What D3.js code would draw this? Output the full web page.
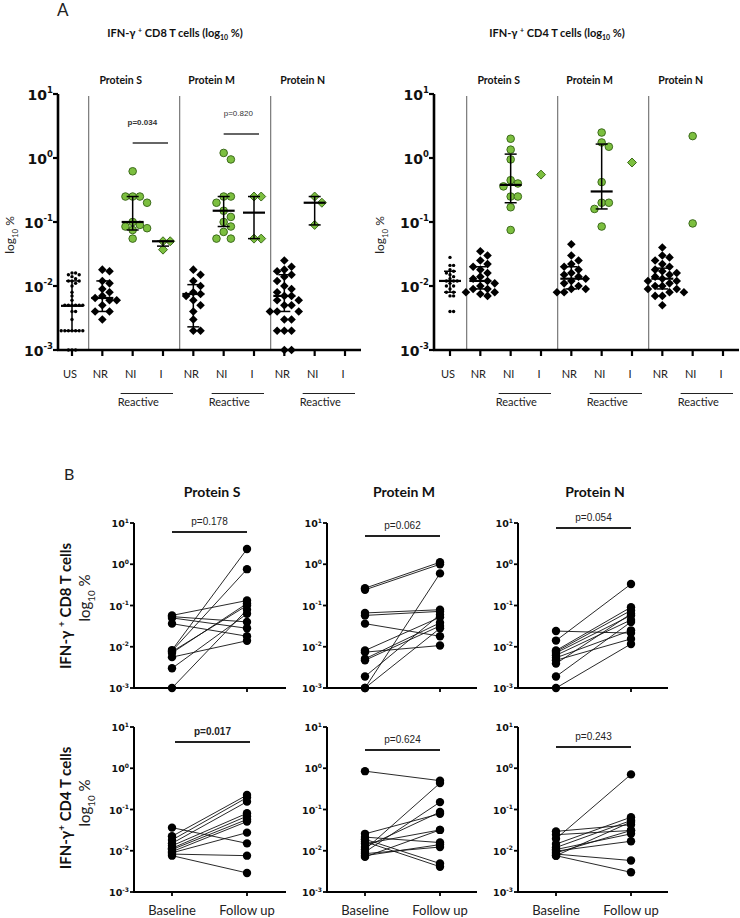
<!DOCTYPE html>
<html><head><meta charset="utf-8">
<script src="https://cdn.jsdelivr.net/npm/d3@7"></script>
<style>body{margin:0;background:#fff}</style>
</head><body><svg id="c" width="740" height="918"></svg>
<script>
// ---------------- DATA ----------------
const categoriesA = ["US","S-NR","S-NI","S-I","M-NR","M-NI","M-I","N-NR","N-NI","N-I"];
const categoryLabelsA = ["US","NR","NI","I","NR","NI","I","NR","NI","I"];
const proteinLabels = ["Protein S","Protein M","Protein N"];
const decadeTicks = [0.001,0.01,0.1,1,10];
const decadeExps = ["-3","-2","-1","0","1"];

// Panel A, CD8
const cd8_US   = [0.016,0.016,0.015,0.015,0.014,0.013,0.012,0.012,0.012,0.011,0.010,0.008,0.007,0.006,0.005,0.005,0.005,0.005,0.005,0.005,0.004,0.004,0.003,0.002,0.002,0.002,0.002,0.002,0.002,0.002,0.001,0.001,0.001];
const cd8_S_NR = [0.018,0.017,0.012,0.011,0.009,0.008,0.007,0.0065,0.006,0.006,0.005,0.004,0.004,0.003];
const cd8_S_NI = [0.62,0.25,0.25,0.25,0.2,0.1,0.09,0.085,0.08,0.075,0.055];
const cd8_S_I  = [0.05,0.05,0.037];
const cd8_M_NR = [0.018,0.015,0.012,0.010,0.008,0.0075,0.007,0.006,0.005,0.004,0.003,0.002,0.002];
const cd8_M_NI = [1.2,0.95,0.25,0.25,0.2,0.15,0.12,0.1,0.085,0.07,0.055,0.055];
const cd8_M_I  = [0.25,0.25,0.055,0.055];
const cd8_N_NR = [0.025,0.02,0.018,0.017,0.015,0.014,0.012,0.01,0.009,0.008,0.007,0.007,0.006,0.006,0.005,0.005,0.004,0.004,0.004,0.003,0.003,0.002,0.002,0.002,0.001,0.001];
const cd8_N_NI = [0.25,0.2,0.09];
const cd8_N_I  = [];
const cd8_markers = ["dot","diamond","circle","gdiamond","diamond","circle","gdiamond","diamond","gdiamond","gdiamond"];
const cd8_median = [0.0049,0.0065,0.10,0.05,0.0075,0.15,0.14,0.007,0.2,null];
const cd8_low    = [0.002,0.004,0.075,0.042,0.0023,0.085,0.055,0.004,0.09,null];
const cd8_high   = [0.012,0.012,0.25,0.05,0.0105,0.25,0.25,0.015,0.25,null];

// Panel A, CD4
const cd4_US   = [0.028,0.021,0.021,0.018,0.017,0.016,0.015,0.014,0.013,0.012,0.012,0.012,0.011,0.01,0.01,0.009,0.008,0.008,0.007,0.007,0.004,0.004];
const cd4_S_NR = [0.035,0.03,0.025,0.022,0.02,0.018,0.016,0.014,0.013,0.012,0.011,0.01,0.009,0.009,0.008,0.008,0.0075,0.007];
const cd4_S_NI = [2.0,1.35,0.95,0.45,0.4,0.36,0.25,0.25,0.17,0.075];
const cd4_S_I  = [0.55];
const cd4_M_NR = [0.045,0.03,0.025,0.022,0.02,0.018,0.016,0.015,0.014,0.013,0.012,0.011,0.01,0.009,0.009,0.008,0.008];
const cd4_M_NI = [2.5,1.75,1.5,0.42,0.2,0.2,0.16,0.085];
const cd4_M_I  = [0.85];
const cd4_N_NR = [0.04,0.03,0.028,0.025,0.022,0.02,0.018,0.017,0.016,0.015,0.014,0.013,0.012,0.012,0.011,0.01,0.01,0.009,0.009,0.008,0.008,0.007,0.007,0.005];
const cd4_N_NI = [2.2,0.095];
const cd4_N_I  = [];
const cd4_markers = ["dot","diamond","circle","gdiamond","diamond","circle","gdiamond","diamond","circle","gdiamond"];
const cd4_median = [0.012,0.012,0.38,null,0.013,0.3,null,0.013,null,null];
const cd4_low    = [0.008,0.009,0.2,null,0.009,0.16,null,0.009,null,null];
const cd4_high   = [0.017,0.02,1.15,null,0.02,1.65,null,0.019,null,null];

// Panel A p-values
const pA_cd8 = [{text:"p=0.034", bold:true, from:"S-NI", to:"S-I"},{text:"p=0.820", bold:false, from:"M-NI", to:"M-I"}];

// Panel B paired data
const timepoints = ["Baseline","Follow up"];
const b_cd8_S_base   = [0.0575,0.0537,0.050,0.0363,0.0083,0.0079,0.0076,0.0071,0.0056,0.0030,0.001];
const b_cd8_S_follow = [0.132,0.040,0.028,0.018,2.34,0.76,0.10,0.112,0.014,0.063,0.079];
const b_cd8_M_base   = [0.263,0.240,0.066,0.0575,0.0363,0.0081,0.0074,0.0051,0.0047,0.0019,0.001,0.001];
const b_cd8_M_follow = [1.12,1.0,0.079,0.072,0.018,0.052,0.0107,0.038,0.032,0.060,0.60,0.028];
const b_cd8_N_base   = [0.024,0.0141,0.0081,0.0076,0.0071,0.0062,0.0054,0.0047,0.0039,0.0019,0.001];
const b_cd8_N_follow = [0.0214,0.331,0.091,0.076,0.0575,0.0447,0.025,0.0155,0.063,0.040,0.0117];
const b_cd4_S_base   = [0.0363,0.0224,0.0182,0.0151,0.0132,0.0115,0.0107,0.0095,0.0089,0.0083,0.0076];
const b_cd4_S_follow = [0.0151,0.224,0.195,0.155,0.081,0.069,0.0575,0.051,0.0275,0.0076,0.0029];
const b_cd4_M_base   = [0.85,0.0257,0.0214,0.019,0.0166,0.0148,0.0123,0.0107,0.0093,0.0085,0.0076,0.0071];
const b_cd4_M_follow = [0.50,0.079,0.0158,0.0049,0.0041,0.032,0.087,0.436,0.151,0.0123,0.0141,0.032];
const b_cd4_N_base   = [0.0295,0.0245,0.0195,0.0145,0.012,0.0107,0.0098,0.0089,0.0083,0.0076,0.0076];
const b_cd4_N_follow = [0.0427,0.031,0.71,0.065,0.054,0.0257,0.017,0.031,0.0058,0.003,0.05];
const pB_cd8 = ["p=0.178","p=0.062","p=0.054"];
const pB_cd4 = ["p=0.017","p=0.624","p=0.243"];
const pB_cd4_bold = [true,false,false];

// ---------------- DRAW ----------------
const svg = d3.select("#c");
const GREEN = "#7cbf3f", GREEN_STROKE = "#3d6b1c";
const ARIAL = "'Liberation Sans', Arial, sans-serif";
const TICKF = "'DejaVu Sans', sans-serif";
const SANS = "Lato, 'Open Sans', sans-serif";

function supText(g, x, y, base, sup, opts) {
  const t = g.append("text").attr("x", x).attr("y", y)
    .attr("text-anchor", opts.anchor || "start")
    .attr("font-family", opts.family || ARIAL)
    .attr("font-size", opts.size).attr("font-weight", opts.weight || "normal")
    .attr("fill", "#111");
  t.append("tspan").text(base);
  t.append("tspan").attr("font-size", opts.supSize).attr("dy", opts.supDy).text(sup);
  return t;
}
function logLabel(g, x, y, size, rotate) {
  const t = g.append("text").attr("x", x).attr("y", y).attr("text-anchor","middle")
    .attr("font-family", SANS).attr("font-size", size).attr("fill","#222");
  if (rotate) t.attr("transform", `rotate(-90,${x},${y})`);
  t.append("tspan").text("log");
  t.append("tspan").attr("font-size", size*0.65).attr("dy", size*0.3).text("10");
  t.append("tspan").attr("dy", -size*0.3).text(" %");
}

function swarm(vals, cx, yScale, gap) {
  const pts = vals.map(v => ({v, y: yScale(v)})).sort((a,b) => a.y - b.y);
  const placed = [];
  pts.forEach(p => {
    for (let k = 0; k < 60; k++) {
      const off = (k === 0 ? 0 : (k % 2 ? 1 : -1) * Math.ceil(k/2)) * gap;
      const x = cx + off;
      if (placed.every(q => Math.hypot(q.x - x, q.y - p.y) >= gap * 0.95)) { p.x = x; break; }
    }
    placed.push(p);
  });
  return placed;
}

function diamondPath(h) { return `M0,${-h}L${h},0L0,${h}L${-h},0Z`; }

function panelA(cfg) {
  const g = svg.append("g");
  const y = d3.scaleLog().domain([0.001, 10]).range([350, 94]);
  const x = d3.scalePoint().domain(categoriesA).range([cfg.x0, cfg.x0 + 273]);
  // separators
  [["US","S-NR"],["S-I","M-NR"],["M-I","N-NR"]].forEach(([a,b]) => {
    const sx = (x(a) + x(b)) / 2 + 1.5;
    g.append("line").attr("x1", sx).attr("x2", sx).attr("y1", 96).attr("y2", 350)
      .attr("stroke", "#777").attr("stroke-width", 1.2);
  });
  // axes
  g.append("line").attr("x1", cfg.axisX).attr("x2", cfg.axisX).attr("y1", y(10)).attr("y2", y(0.001) + 1)
    .attr("stroke","#000").attr("stroke-width", 2.6);
  g.append("line").attr("x1", cfg.axisX - 1).attr("x2", cfg.axisEnd).attr("y1", y(0.001)).attr("y2", y(0.001))
    .attr("stroke","#000").attr("stroke-width", 2.6);
  decadeTicks.forEach((t,i) => {
    g.append("line").attr("x1", cfg.axisX - 5).attr("x2", cfg.axisX).attr("y1", y(t)).attr("y2", y(t))
      .attr("stroke","#000").attr("stroke-width", 2.2);
    supText(g, cfg.axisX - 5, y(t) + 5.5, "10", decadeExps[i],
      {anchor:"end", size:14, supSize:8.5, supDy:-7, weight:"bold", family:TICKF});
  });
  categoriesA.forEach((c,i) => {
    g.append("line").attr("x1", x(c)).attr("x2", x(c)).attr("y1", y(0.001)).attr("y2", y(0.001) + 6)
      .attr("stroke","#000").attr("stroke-width", 2.2);
    g.append("text").attr("x", x(c) - 2).attr("y", 378).attr("text-anchor","middle")
      .attr("font-family", SANS).attr("font-size", 11).attr("fill","#222").text(categoryLabelsA[i]);
  });
  // reactive labels
  ["S","M","N"].forEach((p,i) => {
    const x1 = x(p+"-NI") - 12, x2 = x(p+"-I") + 10;
    g.append("line").attr("x1", x1).attr("x2", x2).attr("y1", 393.5).attr("y2", 393.5)
      .attr("stroke","#222").attr("stroke-width", 1.2);
    g.append("text").attr("x", x1 - 3).attr("y", 406).attr("font-family", SANS).attr("font-size", 11)
      .attr("fill","#222").text("Reactive");
    const secC = (x(p+"-NR") + x(p+"-I")) / 2 - 12;
    g.append("text").attr("x", secC).attr("y", 84).attr("text-anchor","middle")
      .attr("font-family", SANS).attr("font-weight","bold").attr("font-size", 10.5).attr("fill","#111")
      .text(proteinLabels[i]);
  });
  // title
  const tt = g.append("text").attr("x", cfg.titleX).attr("y", 37).attr("text-anchor","middle")
    .attr("font-family", SANS).attr("font-weight","bold").attr("font-size", 11).attr("fill","#111");
  tt.append("tspan").text("IFN-γ ");
  tt.append("tspan").attr("font-size", 7).attr("dy", -4).text("+");
  tt.append("tspan").attr("dy", 4).text(" " + cfg.title + " (log");
  tt.append("tspan").attr("font-size", 7).attr("dy", 3).text("10");
  tt.append("tspan").attr("dy", -3).text(" %)");
  logLabel(g, cfg.ylabX, 235, 12, true);
  // points
  categoriesA.forEach((c,i) => {
    const vals = cfg.data[i];
    const m = cfg.markers[i];
    const gap = m === "dot" ? 3.6 : 7.2;
    const pts = swarm(vals, x(c), y, gap);
    pts.forEach(p => {
      if (m === "dot") {
        g.append("circle").attr("cx", p.x).attr("cy", p.y).attr("r", 1.7).attr("fill","#000");
      } else if (m === "circle") {
        g.append("circle").attr("cx", p.x).attr("cy", p.y).attr("r", 3.8)
          .attr("fill", GREEN).attr("stroke", GREEN_STROKE).attr("stroke-width", 1);
      } else if (m === "diamond") {
        g.append("path").attr("d", diamondPath(4.3)).attr("transform", `translate(${p.x},${p.y})`).attr("fill","#000");
      } else {
        g.append("path").attr("d", diamondPath(4.5)).attr("transform", `translate(${p.x},${p.y})`)
          .attr("fill", GREEN).attr("stroke", GREEN_STROKE).attr("stroke-width", 1);
      }
    });
    // summary
    if (cfg.median[i] != null) {
      const cx = x(c);
      g.append("line").attr("x1", cx).attr("x2", cx).attr("y1", y(cfg.high[i])).attr("y2", y(cfg.low[i]))
        .attr("stroke","#000").attr("stroke-width", 1.5);
      [cfg.high[i], cfg.low[i]].forEach(v => g.append("line").attr("x1", cx - 6).attr("x2", cx + 6)
        .attr("y1", y(v)).attr("y2", y(v)).attr("stroke","#000").attr("stroke-width", 1.5));
      g.append("line").attr("x1", cx - 11).attr("x2", cx + 11).attr("y1", y(cfg.median[i])).attr("y2", y(cfg.median[i]))
        .attr("stroke","#000").attr("stroke-width", 2.2);
    }
  });
  // p-values
  (cfg.pvals || []).forEach((p,i) => {
    const x1 = x(p.from), x2 = x(p.to) + 5;
    const ly = i === 0 ? 143 : 134;
    g.append("line").attr("x1", x1).attr("x2", x2).attr("y1", ly).attr("y2", ly).attr("stroke","#333").attr("stroke-width", 1.6);
    g.append("text").attr("x", (x1+x2)/2 - 5 + (i===0?-3:2)).attr("y", ly - 18).attr("text-anchor","middle")
      .attr("font-family", ARIAL).attr("font-size", 8).attr("font-weight", p.bold ? "bold" : "normal")
      .attr("fill","#333").text(p.text);
  });
}

panelA({x0:72, axisX:58, axisEnd:361, titleX:175, title:"CD8 T cells", ylabX:14,
  data:[cd8_US,cd8_S_NR,cd8_S_NI,cd8_S_I,cd8_M_NR,cd8_M_NI,cd8_M_I,cd8_N_NR,cd8_N_NI,cd8_N_I],
  markers:cd8_markers, median:cd8_median, low:cd8_low, high:cd8_high, pvals:pA_cd8});
panelA({x0:450, axisX:434, axisEnd:739, titleX:557, title:"CD4 T cells", ylabX:384,
  data:[cd4_US,cd4_S_NR,cd4_S_NI,cd4_S_I,cd4_M_NR,cd4_M_NI,cd4_M_I,cd4_N_NR,cd4_N_NI,cd4_N_I],
  markers:cd4_markers, median:cd4_median, low:cd4_low, high:cd4_high});

svg.append("text").attr("x", 57).attr("y", 16).attr("font-family", SANS).attr("font-size", 17).attr("fill","#222").text("A");
svg.append("text").attr("x", 64).attr("y", 480).attr("font-family", SANS).attr("font-size", 16).attr("fill","#222").text("B");

// Panel B
const colsB = [{axisX:134, end:286}, {axisX:327, end:477}, {axisX:518, end:668}];
const rowsB = [{top:523, bottom:688}, {top:727, bottom:892}];
const pLineY = [[532,536,528],[742,750,747]];
const dataB = [
  [[b_cd8_S_base,b_cd8_S_follow],[b_cd8_M_base,b_cd8_M_follow],[b_cd8_N_base,b_cd8_N_follow]],
  [[b_cd4_S_base,b_cd4_S_follow],[b_cd4_M_base,b_cd4_M_follow],[b_cd4_N_base,b_cd4_N_follow]]
];
rowsB.forEach((row, ri) => {
  colsB.forEach((col, ci) => {
    const g = svg.append("g");
    const y = d3.scaleLog().domain([0.001, 10]).range([row.bottom, row.top]);
    const x = d3.scalePoint().domain(timepoints).range([col.axisX + 38, col.axisX + 113]);
    g.append("line").attr("x1", col.axisX).attr("x2", col.axisX).attr("y1", row.top).attr("y2", row.bottom + 1)
      .attr("stroke","#000").attr("stroke-width", 2);
    g.append("line").attr("x1", col.axisX - 1).attr("x2", col.end).attr("y1", row.bottom).attr("y2", row.bottom)
      .attr("stroke","#000").attr("stroke-width", 2);
    decadeTicks.forEach((t,i) => {
      g.append("line").attr("x1", col.axisX - 4).attr("x2", col.axisX).attr("y1", y(t)).attr("y2", y(t))
        .attr("stroke","#000").attr("stroke-width", 1.8);
      supText(g, col.axisX - 5, y(t) + 4, "10", decadeExps[i],
        {anchor:"end", size:9.5, supSize:6, supDy:-4.5, weight:"bold", family:TICKF});
    });
    timepoints.forEach(tp => {
      g.append("line").attr("x1", x(tp)).attr("x2", x(tp)).attr("y1", row.bottom).attr("y2", row.bottom + 4)
        .attr("stroke","#000").attr("stroke-width", 1.8);
      if (ri === 1) g.append("text").attr("x", x(tp)).attr("y", 915).attr("text-anchor","middle")
        .attr("font-family", SANS).attr("font-size", 13).attr("fill","#222").text(tp);
    });
    const [base, fol] = dataB[ri][ci];
    base.forEach((b,i) => {
      g.append("line").attr("x1", x("Baseline")).attr("x2", x("Follow up")).attr("y1", y(b)).attr("y2", y(fol[i]))
        .attr("stroke","#111").attr("stroke-width", 0.9);
    });
    base.forEach(b => g.append("circle").attr("cx", x("Baseline")).attr("cy", y(b)).attr("r", 4.2).attr("fill","#000"));
    fol.forEach(f => g.append("circle").attr("cx", x("Follow up")).attr("cy", y(f)).attr("r", 4.2).attr("fill","#000"));
    // p-value
    const ly = pLineY[ri][ci];
    const x1 = x("Baseline") + (ri===1 && ci===0 ? 3 : 0), x2 = x("Follow up") + (ri===1 && ci===0 ? 3 : 0);
    g.append("line").attr("x1", x1).attr("x2", x2).attr("y1", ly).attr("y2", ly).attr("stroke","#222").attr("stroke-width", 1.8);
    const ptxt = ri === 0 ? pB_cd8[ci] : pB_cd4[ci];
    const bold = ri === 1 && pB_cd4_bold[ci];
    g.append("text").attr("x", (x1+x2)/2).attr("y", ly - 7).attr("text-anchor","middle")
      .attr("font-family", ARIAL).attr("font-size", 10).attr("font-weight", bold ? "bold" : "normal")
      .attr("fill","#222").text(ptxt);
    if (ri === 0) {
      g.append("text").attr("x", (col.axisX + col.end)/2 + 2).attr("y", 497).attr("text-anchor","middle")
        .attr("font-family", SANS).attr("font-size", 14).attr("font-weight","bold").attr("fill","#111")
        .text(proteinLabels[ci]);
    }
  });
  // row y labels
  const cy = ri === 0 ? 606 : 808;
  const t = svg.append("text").attr("x", 71).attr("y", cy).attr("text-anchor","middle")
    .attr("transform", `rotate(-90,71,${cy})`)
    .attr("font-family", SANS).attr("font-size", 15).attr("font-weight","bold").attr("fill","#111");
  t.append("tspan").text(ri === 0 ? "IFN-γ " : "IFN-γ");
  t.append("tspan").attr("font-size", 10).attr("dy", -6).text("+");
  t.append("tspan").attr("dy", 6).text(ri === 0 ? " CD8 T cells" : " CD4 T cells");
  logLabel(svg, 90, ri === 0 ? 598 : 803, 15, true);
});
</script>
</body></html>
